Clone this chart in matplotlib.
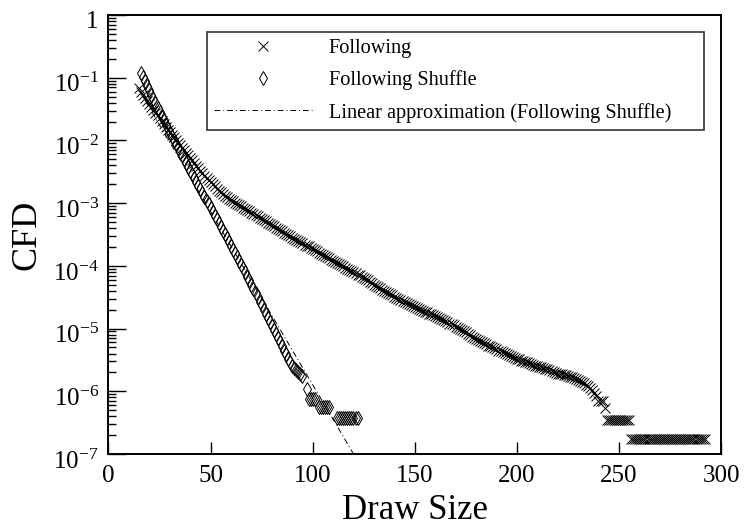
import numpy as np
import matplotlib
matplotlib.use("Agg")
import matplotlib.pyplot as plt
from matplotlib.ticker import FixedLocator, LogLocator, NullFormatter
from matplotlib.transforms import ScaledTranslation

plt.rcParams['font.family'] = ['Liberation Serif', 'DejaVu Serif']
plt.rcParams['mathtext.fontset'] = 'custom'
plt.rcParams['mathtext.rm'] = 'Liberation Serif'
plt.rcParams['mathtext.it'] = 'Liberation Serif:italic'

# ---- data (log10 of CFD) ----
following_x = list(range(15, 293))
following_exp = [
    -1.17, -1.22, -1.27, -1.32, -1.37, -1.42, -1.47, -1.51, -1.56, -1.60,
    -1.65, -1.69, -1.74, -1.78, -1.83, -1.87, -1.91, -1.95, -2.00, -2.04,
    -2.08, -2.12, -2.16, -2.20, -2.24, -2.28, -2.32, -2.36, -2.40, -2.44,
    -2.48, -2.52, -2.56, -2.60, -2.63, -2.67, -2.70, -2.73, -2.77, -2.80,
    -2.83, -2.86, -2.88, -2.91, -2.93, -2.95, -2.97, -2.99, -3.01, -3.03,
    -3.05, -3.07, -3.09, -3.11, -3.13, -3.15, -3.17, -3.19, -3.21, -3.23,
    -3.25, -3.27, -3.29, -3.31, -3.33, -3.35, -3.37, -3.39, -3.41, -3.43,
    -3.45, -3.47, -3.49, -3.51, -3.53, -3.55, -3.57, -3.59, -3.60, -3.62,
    -3.64, -3.66, -3.68, -3.69, -3.71, -3.73, -3.75, -3.77, -3.79, -3.81,
    -3.83, -3.85, -3.86, -3.88, -3.90, -3.92, -3.94, -3.96, -3.97, -3.99,
    -4.01, -4.03, -4.05, -4.06, -4.08, -4.10, -4.12, -4.14, -4.15, -4.17,
    -4.19, -4.21, -4.23, -4.25, -4.28, -4.30, -4.32, -4.34, -4.36, -4.38,
    -4.40, -4.42, -4.44, -4.45, -4.47, -4.49, -4.51, -4.53, -4.54, -4.56,
    -4.58, -4.60, -4.61, -4.63, -4.64, -4.66, -4.67, -4.69, -4.70, -4.72,
    -4.73, -4.74, -4.76, -4.77, -4.79, -4.80, -4.82, -4.83, -4.85, -4.86,
    -4.88, -4.90, -4.92, -4.93, -4.95, -4.97, -4.99, -5.01, -5.02, -5.04,
    -5.06, -5.08, -5.11, -5.13, -5.15, -5.17, -5.19, -5.20, -5.22, -5.23,
    -5.25, -5.27, -5.28, -5.30, -5.31, -5.33, -5.35, -5.36, -5.38, -5.39,
    -5.41, -5.42, -5.44, -5.45, -5.47, -5.48, -5.49, -5.51, -5.52, -5.53,
    -5.54, -5.55, -5.57, -5.58, -5.59, -5.60, -5.61, -5.62, -5.63, -5.64,
    -5.65, -5.66, -5.68, -5.69, -5.71, -5.72, -5.72, -5.73, -5.74, -5.74,
    -5.75, -5.77, -5.78, -5.79, -5.81, -5.82, -5.84, -5.85, -5.87, -5.90,
    -5.92, -5.95, -5.98, -6.02, -6.08, -6.15, -6.15, -6.15, -6.27, -6.45,
    -6.45, -6.45, -6.45, -6.45, -6.45, -6.45, -6.45, -6.45, -6.45, -6.45,
    -6.45, -6.76, -6.76, -6.76, -6.76, -6.76, -6.76, -6.76, -6.76, -6.76,
    -6.76, -6.76, -6.76, -6.76, -6.76, -6.76, -6.76, -6.76, -6.76, -6.76,
    -6.76, -6.76, -6.76, -6.76, -6.76, -6.76, -6.76, -6.76, -6.76, -6.76,
    -6.76, -6.76, -6.76, -6.76, -6.76, -6.76, -6.76, -6.76,
]

shuffle_x = list(range(16, 96)) + [97, 98, 99, 100, 101,
                                   103, 104, 105, 106, 107, 108,
                                   112, 113, 114, 115, 116, 117, 118, 119, 120, 121, 122]
shuffle_exp = [
    -0.93, -0.99, -1.06, -1.13, -1.20, -1.27, -1.34, -1.41, -1.48, -1.55,
    -1.62, -1.68, -1.75, -1.81, -1.88, -1.94, -2.00, -2.06, -2.12, -2.18,
    -2.24, -2.30, -2.36, -2.42, -2.48, -2.54, -2.60, -2.66, -2.72, -2.78,
    -2.84, -2.90, -2.96, -3.02, -3.08, -3.14, -3.20, -3.26, -3.32, -3.38,
    -3.44, -3.50, -3.56, -3.62, -3.68, -3.74, -3.80, -3.86, -3.92, -3.98,
    -4.04, -4.10, -4.17, -4.23, -4.30, -4.37, -4.44, -4.50, -4.57, -4.63,
    -4.70, -4.76, -4.83, -4.89, -4.96, -5.02, -5.09, -5.15, -5.22, -5.28,
    -5.35, -5.41, -5.48, -5.54, -5.60, -5.63, -5.66, -5.69, -5.72, -5.75,
    -5.96, -6.12, -6.12, -6.12, -6.12,
    -6.25, -6.25, -6.25, -6.25, -6.25, -6.25,
    -6.43, -6.43, -6.43, -6.43, -6.43, -6.43, -6.43, -6.43, -6.43, -6.43, -6.43,
]

approx_x = [15, 120]
approx_exp = [-1.20, -7.00]

x_ticks = [0, 50, 100, 150, 200, 250, 300]
y_ticks = [1, 1e-1, 1e-2, 1e-3, 1e-4, 1e-5, 1e-6, 1e-7]
y_ticklabels = ['1', r'$\mathregular{10^{-1}}$', r'$\mathregular{10^{-2}}$', r'$\mathregular{10^{-3}}$',
                r'$\mathregular{10^{-4}}$', r'$\mathregular{10^{-5}}$', r'$\mathregular{10^{-6}}$',
                r'$\mathregular{10^{-7}}$']

following_y = 10.0 ** np.array(following_exp)
shuffle_y = 10.0 ** np.array(shuffle_exp)
approx_y = 10.0 ** np.array(approx_exp)

fig = plt.figure(figsize=(7.45, 5.28), dpi=100)
ax = fig.add_axes([108.5 / 745, 1 - 454 / 528, 612.5 / 745, 439 / 528])

ax.plot(following_x, following_y, linestyle='none', marker='x', markersize=7.5,
        markeredgewidth=0.7, color='black', label='Following')
ax.plot(shuffle_x, shuffle_y, linestyle='none', marker='d', markersize=7,
        markeredgewidth=0.7, markerfacecolor='none', color='black', label='Following Shuffle')
ax.plot(approx_x, approx_y, linestyle=(0, (6, 3, 1, 3)), linewidth=0.7, color='black',
        label='Linear approximation (Following Shuffle)')

ax.set_yscale('log')
ax.set_xlim(0, 300)
ax.set_ylim(1e-7, 1)
ax.xaxis.set_major_locator(FixedLocator(x_ticks))
ax.set_xticklabels([str(t) for t in x_ticks])
ax.yaxis.set_major_locator(FixedLocator(y_ticks))
ax.set_yticklabels(y_ticklabels)
ax.yaxis.set_minor_locator(LogLocator(base=10, subs=np.arange(2, 10), numticks=20))
ax.yaxis.set_minor_formatter(NullFormatter())

ax.tick_params(axis='y', which='major', direction='in', length=13, width=1, labelsize=18, pad=7)
ax.tick_params(axis='y', which='minor', direction='in', length=6, width=1)
ax.tick_params(axis='x', which='major', direction='in', length=9, width=1, labelsize=18, pad=8)
ax.tick_params(top=False, right=False)
for s in ax.spines.values():
    s.set_linewidth(1.4)

shift = ScaledTranslation(0, -5 / 100, fig.dpi_scale_trans)
for lab in ax.get_yticklabels():
    lab.set_transform(lab.get_transform() + shift)

ax.set_xlabel('Draw Size', fontsize=25, labelpad=5)
ax.set_ylabel('CFD', fontsize=26, labelpad=7)

leg = ax.legend(loc='upper left', bbox_to_anchor=(0.161, 0.740, 0.811, 0.221), mode='expand',
                fontsize=14.6, frameon=True, fancybox=False, edgecolor='black',
                handlelength=4.8, handletextpad=0.85, labelspacing=0.6, borderpad=0.35,
                numpoints=1, borderaxespad=0)
leg.get_frame().set_linewidth(1.2)

fig.savefig('out.png', dpi=100)
